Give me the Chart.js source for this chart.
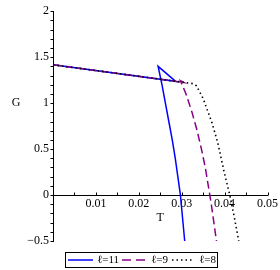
<!DOCTYPE html>
<html><head><meta charset="utf-8">
<script src="https://cdn.jsdelivr.net/npm/chart.js@4"></script>
<style>html,body{margin:0;padding:0;background:#fff}#wrap{width:280px;height:270px}</style>
</head><body><div id="wrap"><canvas id="c" width="280" height="270"></canvas></div>
<script>
const seriesLabels = ['ℓ=11', 'ℓ=9', 'ℓ=8'];
const T_l11 = [0, 0.0286, 0.0245, 0.0254, 0.0262, 0.0270, 0.0278, 0.0285, 0.0291, 0.0297, 0.0302, 0.0307];
const G_l11 = [1.417, 1.237, 1.400, 1.20, 1.00, 0.80, 0.60, 0.40, 0.20, 0.00, -0.25, -0.50];
const T_l9 = [0, 0.0305, 0.0297, 0.0310, 0.0324, 0.0336, 0.0346, 0.0355, 0.0362, 0.0369, 0.0375, 0.0381];
const G_l9 = [1.417, 1.225, 1.245, 1.10, 0.90, 0.70, 0.50, 0.30, 0.10, -0.10, -0.30, -0.50];
const T_l8 = [0, 0.0326, 0.0334, 0.0342, 0.0350, 0.0357, 0.0371, 0.0384, 0.0399, 0.0412, 0.0423, 0.0433];
const G_l8 = [1.417, 1.212, 1.19, 1.12, 1.05, 0.96, 0.78, 0.57, 0.25, 0.00, -0.25, -0.50];
const xTickLabels = [0.01, 0.02, 0.03, 0.04, 0.05];
const yTickLabels = [-0.5, 0, 0.5, 1, 1.5, 2];
const xTitle = 'T';
const yTitle = 'G';

const FONT = '"Liberation Serif", "Times New Roman", serif';
const colors = ['#0000ff', '#880088', '#000000'];
const dashes = [[], [8, 4], [1.5, 3]];

function pts(T, G) { return T.map((t, i) => ({x: t, y: G[i]})); }
const tSets = [T_l11, T_l9, T_l8];
const gSets = [G_l11, G_l9, G_l8];

const datasets = seriesLabels.map((lab, i) => ({
  label: lab,
  data: pts(tSets[i], gSets[i]),
  borderColor: colors[i],
  borderWidth: i === 2 ? 1.6 : 1.5,
  borderDash: dashes[i],
  pointRadius: 0,
  showLine: true,
  fill: false,
  tension: 0,
  order: 2 - i
}));

const fmt = v => (v < 0 ? '\u2212' : '') + String(Math.abs(v));

const decor = {
  id: 'decor',
  afterDraw(chart) {
    const {ctx, scales: {x, y}} = chart;
    ctx.save();
    ctx.strokeStyle = '#000';
    ctx.lineWidth = 1;
    const x0 = Math.round(x.getPixelForValue(0)) + 0.5;
    const y0 = Math.round(y.getPixelForValue(0)) + 0.5;
    for (let i = 0; i <= 25; i++) {
      const v = -0.5 + i * 0.1;
      const py = Math.round(y.getPixelForValue(v)) + 0.5;
      ctx.beginPath(); ctx.moveTo(x0 - 3, py); ctx.lineTo(x0, py); ctx.stroke();
    }
    for (let i = 1; i <= 10; i++) {
      const v = i * 0.005;
      const px = Math.round(x.getPixelForValue(v)) + 0.5;
      ctx.beginPath(); ctx.moveTo(px, y0 - 3); ctx.lineTo(px, y0); ctx.stroke();
    }
    ctx.fillStyle = '#000';
    ctx.font = '12px ' + FONT;
    ctx.textAlign = 'center';
    ctx.textBaseline = 'middle';
    ctx.fillText(yTitle, 16, y.getPixelForValue(1));
    ctx.fillText(xTitle, (x.left + x.right) / 2, 218);
    const lx = 65.5, ly = 252.5, lw = 152, lh = 15;
    ctx.strokeRect(lx, ly, lw, lh);
    const cy = ly + lh / 2;
    const items = [
      {x1: 68, x2: 93, tx: 97},
      {x1: 122, x2: 147, tx: 151},
      {x1: 172, x2: 194, tx: 199}
    ];
    ctx.font = '11px ' + FONT;
    ctx.textAlign = 'left';
    chart.data.datasets.forEach((ds, i) => {
      const it = items[i];
      ctx.save();
      ctx.strokeStyle = ds.borderColor;
      ctx.lineWidth = ds.borderWidth;
      ctx.setLineDash(i === 1 ? [9, 5] : (i === 2 ? [1.5, 3] : []));
      ctx.beginPath(); ctx.moveTo(it.x1, cy); ctx.lineTo(it.x2, cy); ctx.stroke();
      ctx.restore();
      ctx.fillStyle = '#000';
      ctx.fillText(ds.label, it.tx, cy + 0.5);
    });
    ctx.restore();
  }
};

new Chart(document.getElementById('c'), {
  type: 'scatter',
  data: {datasets},
  options: {
    responsive: false,
    animation: false,
    events: [],
    layout: {padding: {left: 0, top: 5, right: 9, bottom: 29}},
    plugins: {legend: {display: false}, tooltip: {enabled: false}},
    scales: {
      x: {
        type: 'linear', min: 0, max: 0.05,
        position: {y: 0},
        grid: {display: false, drawTicks: false},
        border: {display: true, color: '#000', width: 1},
        afterBuildTicks: s => { s.ticks = xTickLabels.map(v => ({value: v})); },
        ticks: {
          color: '#000', font: {family: FONT, size: 12}, padding: 2,
          maxRotation: 0, autoSkip: false,
          callback: v => fmt(v)
        }
      },
      y: {
        type: 'linear', min: -0.5, max: 2,
        position: 'left',
        grid: {display: false, drawTicks: false},
        border: {display: true, color: '#000', width: 1},
        afterBuildTicks: s => { s.ticks = yTickLabels.map(v => ({value: v})); },
        afterFit: s => { s.width = 53; },
        ticks: {
          color: '#000', font: {family: FONT, size: 12}, padding: 4,
          autoSkip: false,
          callback: v => fmt(v)
        }
      }
    }
  },
  plugins: [decor]
});
</script>
</body></html>
